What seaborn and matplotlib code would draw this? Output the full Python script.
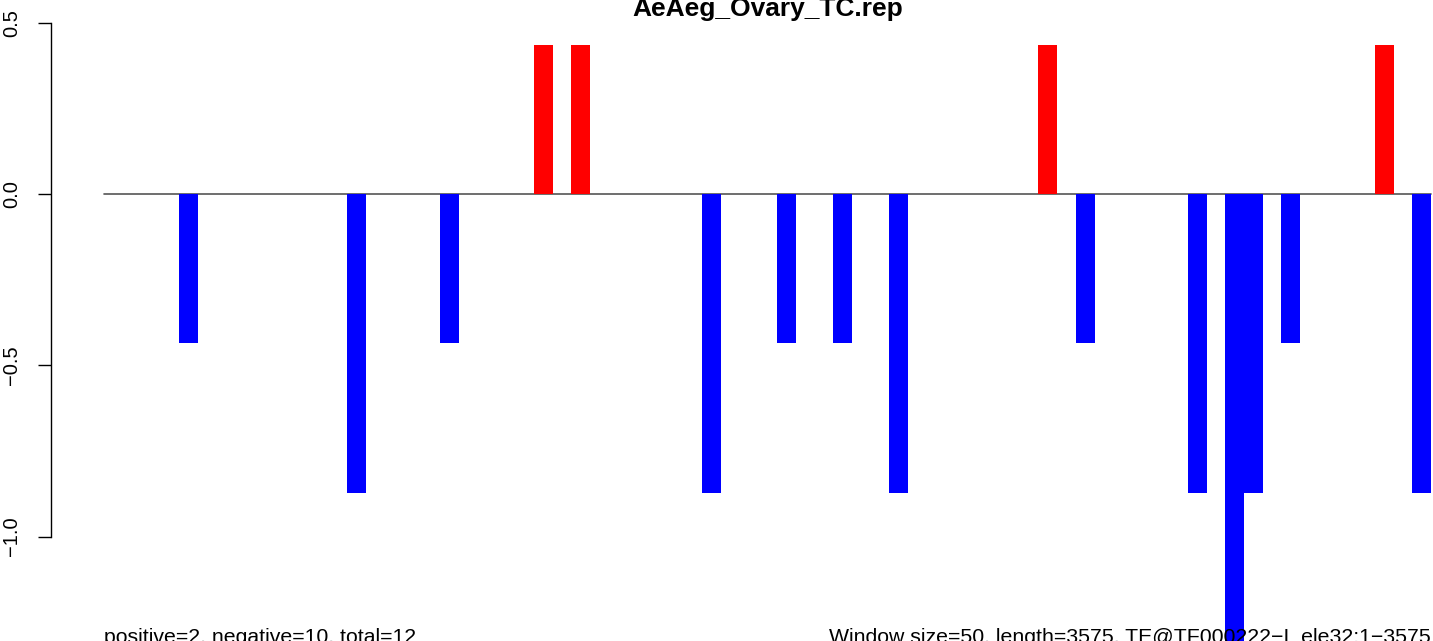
import numpy as np
import pandas as pd
import matplotlib
matplotlib.use("Agg")
import matplotlib.pyplot as plt
import seaborn as sns

# ======================
# data
title = "AeAeg_Ovary_TC.rep"
left_note = "positive=2, negative=10, total=12"
right_note = "Window size=50, length=3575, TE@TF000222\u2212I_ele32:1\u22123575"
n_windows = 71

window_idx = [4, 13, 18, 23, 25, 32, 36, 39, 42, 50, 52, 58, 60, 61, 63, 68, 70]
window_val = [-0.436, -0.873, -0.436, 0.436, 0.436, -0.873, -0.436, -0.436, -0.873,
              0.436, -0.436, -0.873, -1.309, -0.873, -0.436, 0.436, -0.873]

y_ticks = [-1.0, -0.5, 0.0, 0.5]
sign_palette = {"pos": "#FF0000", "neg": "#0000FF"}

df = pd.DataFrame({"window": window_idx, "value": window_val})
df["pos"] = df["window"] + 0.5            # bar centred in its window slot
df["sign"] = np.where(df["value"] > 0, "pos", "neg")

# =========
# plot setup
sns.set_theme(style="white")
plt.rcParams["font.family"] = ["Liberation Sans", "DejaVu Sans"]
plt.rcParams["text.color"] = "black"
plt.rcParams["ytick.color"] = "black"

W, H = 1433, 641
fig = plt.figure(figsize=(W / 100, H / 100), dpi=100)
ax = fig.add_axes([51 / W, 0, 1433 / W, 1])

ax.plot([0, n_windows], [0, 0], color="#555555", lw=1.2, zorder=0.5)

sns.barplot(
    data=df, x="pos", y="value", hue="sign",
    palette=sign_palette, saturation=1, native_scale=True, width=1,
    dodge=False, legend=False, linewidth=0, ax=ax,
)

pad = 0.04 * n_windows
ax.set_xlim(-pad, n_windows + pad)
ax.set_ylim(-(641 - 194) / 342.6, 194 / 342.6)

ax.set_xticks([])
ax.set_xlabel("")
ax.set_ylabel("")
ax.set_yticks(y_ticks)
ax.set_yticklabels([f"{t:.1f}".replace("-", "\u2212") for t in y_ticks],
                   rotation=90, va="center", fontsize=14.5, color="black")
ax.tick_params(axis="y", length=9.4, width=1, pad=12, color="black", left=True)

for s in ["top", "right", "bottom"]:
    ax.spines[s].set_visible(False)
ax.spines["left"].set_bounds(-1.0, 0.5)
ax.spines["left"].set_color("black")
ax.spines["left"].set_linewidth(1)

fig.text(767.5 / W, 1 - 15.7 / H, title, ha="center", va="baseline",
         fontsize=19, fontweight="bold")
fig.text(104 / W, 1 - 643 / H, left_note, ha="left", va="baseline", fontsize=15.3)
fig.text(1431 / W, 1 - 643 / H, right_note, ha="right", va="baseline", fontsize=15.3)

fig.savefig("out.png", dpi=100)
